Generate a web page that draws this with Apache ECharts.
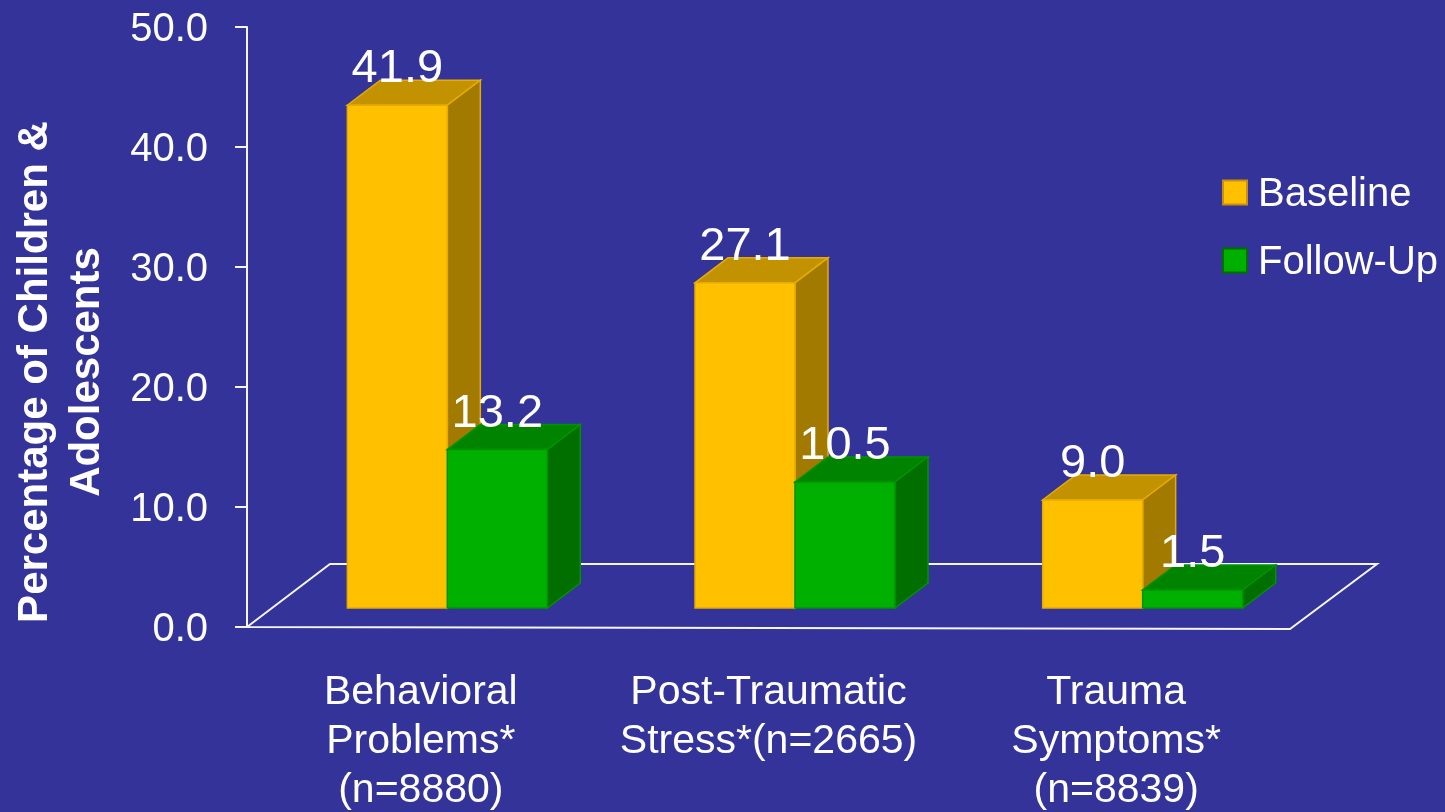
<!DOCTYPE html>
<html><head><meta charset="utf-8">
<style>html,body{margin:0;padding:0;background:#333399;overflow:hidden}#c{width:1445px;height:812px}</style>
<script src="https://cdn.jsdelivr.net/npm/echarts@6/dist/echarts.min.js"></script>
</head><body><div id="c"></div>
<script>
var categories = ['Behavioral\nProblems*\n(n=8880)', 'Post-Traumatic\nStress*(n=2665)', 'Trauma\nSymptoms*\n(n=8839)'];
var baseline = [41.9, 27.1, 9.0];
var followUp = [13.2, 10.5, 1.5];
var FONT = '"Liberation Sans", Arial, sans-serif';
var WHITE = '#f4f4fa';
var floorDx = 85, floorDy = 63, barDx = 33, barDy = 25, frontDx = 26.5, frontDy = 19, barFrac = 0.2876;

function barRenderer(side, pal) {
  return function (params, api) {
    var i = api.value(0), v = api.value(1);
    var c = api.coord([i, v]), b = api.coord([i, 0]);
    var w = api.size([1, 0])[0] * barFrac;
    var cx = c[0] + frontDx;
    var x0 = side < 0 ? cx - w : cx, x1 = x0 + w;
    var yT = c[1] - frontDy, yB = b[1] - frontDy;
    function poly(pts, fill) {
      return { type: 'polygon', shape: { points: pts }, style: { fill: fill, stroke: pal.edge, lineWidth: 1.5 } };
    }
    return { type: 'group', children: [
      poly([[x0, yT], [x1, yT], [x1 + barDx, yT - barDy], [x0 + barDx, yT - barDy]], pal.top),
      poly([[x1, yT], [x1 + barDx, yT - barDy], [x1 + barDx, yB - barDy], [x1, yB]], pal.side),
      poly([[x0, yT], [x1, yT], [x1, yB], [x0, yB]], pal.front),
      { type: 'text', z2: 50, style: { x: x0 + w / 2, y: yT - 36, text: v.toFixed(1), fill: '#ffffff',
        font: '47px ' + FONT, align: 'center', verticalAlign: 'middle' } }
    ] };
  };
}
function floorRenderer(params, api) {
  var s = params.coordSys, x0 = s.x, x1 = s.x + s.width, y0 = s.y + s.height;
  return { type: 'polygon', shape: { points: [[x0, y0], [x0 + floorDx - 2, y0 - floorDy], [x1 + floorDx + 2, y0 - floorDy], [x1, y0 + 2]] },
    style: { fill: 'none', stroke: WHITE, lineWidth: 2 } };
}
var yel = { front: '#FFC000', top: '#C29200', side: '#A37A00', edge: '#E6AC00' };
var grn = { front: '#00B000', top: '#008400', side: '#006F00', edge: '#009400' };

var chart = echarts.init(document.getElementById('c'), null, { renderer: 'canvas' });
chart.setOption({
  backgroundColor: '#333399',
  animation: false,
  grid: { left: 247, top: 27, width: 1043, height: 600, containLabel: false, outerBoundsMode: 'none' },
  legend: {
    data: ['Baseline', 'Follow-Up'], orient: 'vertical', left: 1222, top: 170, itemWidth: 24, itemHeight: 24,
    itemGap: 23, icon: 'rect', selectedMode: false, padding: 0,
    formatter: function (n) { return '{a|' + n + '}'; },
    textStyle: { color: '#ffffff', fontSize: 40, fontFamily: FONT,
      rich: { a: { color: '#ffffff', fontSize: 40, fontFamily: FONT, lineHeight: 46, padding: [5, 0, 0, 6] } } }
  },
  xAxis: {
    type: 'category', data: categories,
    axisLine: { show: false }, axisTick: { show: false }, splitLine: { show: false },
    axisLabel: { interval: 0, color: '#ffffff', fontSize: 41, fontFamily: FONT, lineHeight: 49, margin: 41, align: 'center', verticalAlign: 'top' }
  },
  yAxis: {
    type: 'value', min: 0, max: 50, interval: 10,
    name: 'Percentage of Children &\nAdolescents', nameLocation: 'middle', nameRotate: 90, nameGap: 186,
    nameTextStyle: { color: '#ffffff', fontSize: 42, fontWeight: 'bold', fontFamily: FONT, lineHeight: 52, align: 'center', verticalAlign: 'middle', padding: [0, 90, 0, 0] },
    axisLine: { show: true, lineStyle: { color: WHITE, width: 2 } },
    axisTick: { show: true, length: 12, lineStyle: { color: WHITE, width: 2 } },
    splitLine: { show: false },
    axisLabel: { color: '#ffffff', fontSize: 40, fontFamily: FONT, margin: 39,
      rich: { a: { color: '#ffffff', fontSize: 40, fontFamily: FONT, padding: [6, 0, 0, 0] } },
      formatter: function (v) { return '{a|' + v.toFixed(1) + '}'; } }
  },
  series: [
    { type: 'custom', name: 'floor', z: 1, silent: true, renderItem: floorRenderer, data: [0], clip: false, encode: { x: 0 } },
    { type: 'custom', name: 'Baseline', z: 2, renderItem: barRenderer(-1, yel), clip: false,
      itemStyle: { color: '#FFC000', borderColor: '#C8900A', borderWidth: 1 },
      encode: { x: 0, y: 1 }, data: baseline.map(function (v, i) { return [i, v]; }) },
    { type: 'custom', name: 'Follow-Up', z: 3, renderItem: barRenderer(1, grn), clip: false,
      itemStyle: { color: '#00B000', borderColor: '#006F00', borderWidth: 1 },
      encode: { x: 0, y: 1 }, data: followUp.map(function (v, i) { return [i, v]; }) }
  ]
});
</script></body></html>
